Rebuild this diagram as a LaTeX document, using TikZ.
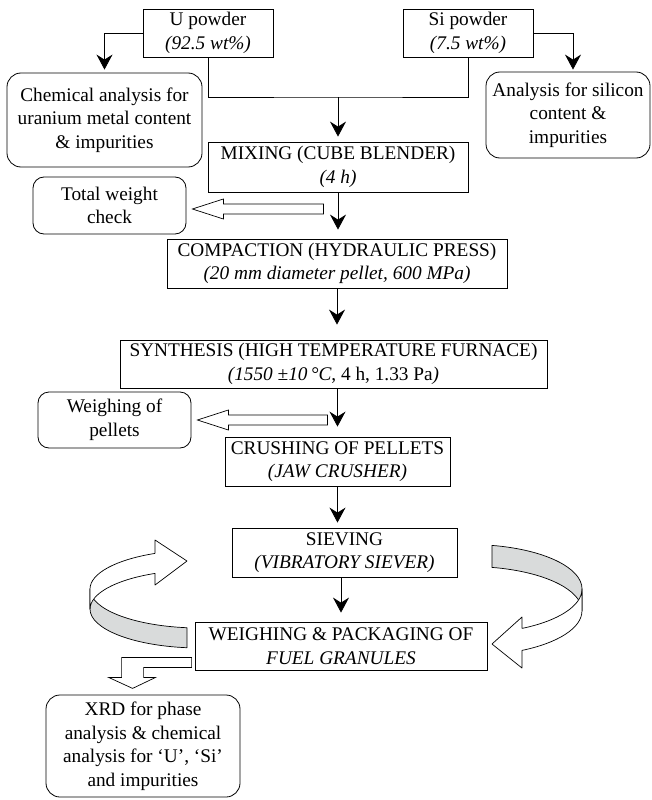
\documentclass[tikz,border=0pt]{standalone}
\usepackage{fontspec}
\setmainfont{Liberation Serif}
\usetikzlibrary{arrows.meta,calc}
\definecolor{ribbongray}{RGB}{217,219,219}

\begin{document}
\begin{tikzpicture}[x=1pt, y=-1pt,
  box/.style={draw, line width=0.8pt, align=center, inner sep=0pt, font=\fontsize{19.3}{23.5}\selectfont},
  roundbox/.style={box, rounded corners=14pt},
  flow/.style={line width=0.8pt, -{Stealth[length=15pt, width=16pt, inset=5pt]}},
  hollow/.style={draw, fill=white, line width=0.7pt},
  ribbon/.style={draw, line width=0.7pt, line join=round}]

\useasboundingbox (0, 0) rectangle (651, 800);

\node[box, minimum width=130, minimum height=48] (u_powder) at (208, 33) {U powder\\\textit{(92.5 wt\%)}};
\node[box, minimum width=130, minimum height=48] (si_powder) at (468, 33) {Si powder\\\textit{(7.5 wt\%)}};
\node[roundbox, minimum width=195, minimum height=94] (chem_analysis) at (104.5, 120) {Chemical analysis for\\uranium metal content\\\& impurities};
\node[roundbox, minimum width=164, minimum height=86] (si_analysis) at (568, 115) {Analysis for silicon\\content \&\\impurities};
\node[box, minimum width=260, minimum height=50] (mixing) at (338, 167) {MIXING (CUBE BLENDER)\\\textit{(4 h)}};
\node[roundbox, rounded corners=11pt, minimum width=153, minimum height=57] (weight_check) at (109.5, 205.5) {Total weight\\check};
\node[box, minimum width=340, minimum height=49] (compaction) at (337, 263.5) {COMPACTION (HYDRAULIC PRESS)\\\textit{(20 mm diameter pellet, 600 MPa)}};
\node[box, minimum width=427, minimum height=48] (synthesis) at (333.5, 364) {SYNTHESIS (HIGH TEMPERATURE FURNACE)\\\textit{(1550 ±10\,°C}, 4 h, 1.33 Pa\textit{)}};
\node[roundbox, rounded corners=11pt, minimum width=153, minimum height=56] (pellet_weighing) at (114.5, 420) {Weighing of\\pellets};
\node[box, minimum width=225, minimum height=49] (crushing) at (337.5, 461.5) {CRUSHING OF PELLETS\\\textit{(JAW CRUSHER)}};
\node[box, minimum width=225, minimum height=49] (sieving) at (344.5, 552.5) {SIEVING\\\textit{(VIBRATORY SIEVER)}};
\node[box, minimum width=292, minimum height=48] (packaging) at (341, 646) {WEIGHING \& PACKAGING OF\\\textit{FUEL GRANULES}};
\node[roundbox, minimum width=194, minimum height=102] (xrd_analysis) at (143, 746) {XRD for phase\\analysis \& chemical\\analysis for ‘U’, ‘Si’\\and impurities};

% powders
\coordinate (join) at (338, 97);
\draw[line width=0.8pt] (u_powder.south) |- (join) -| (si_powder.south);
\draw[flow, shorten >=5pt] (join) -- (mixing.north);
\draw[flow, shorten >=3pt] (u_powder.west) -| (chem_analysis.north);
\draw[flow, shorten >=2pt] (si_powder.east) -| ($(si_analysis.north)+(5, 0)$);

% main line
\draw[flow, shorten >=9pt] (mixing.south) -- (mixing.south |- compaction.north);
\draw[flow, shorten >=15pt] (compaction.south) -- (compaction.south |- synthesis.north);
\draw[flow, shorten >=10pt] (crushing.north |- synthesis.south) -- (crushing.north);
\draw[flow, shorten >=5pt] (crushing.south) -- (crushing.south |- sieving.north);
\draw[flow, shorten >=9pt] (packaging.north |- sieving.south) -- (packaging.north);

% side checks
\draw[hollow] ($(weight_check.east)+(6, 3.5)$) -- ++(31, -10) -- ++(0, 5) -- ++(100, 0) -- ++(0, 10) -- ++(-100, 0) -- ++(0, 5) -- cycle;
\draw[hollow] ($(pellet_weighing.east)+(6, 0)$) -- ++(31, -10) -- ++(0, 5) -- ++(99, 0) -- ++(0, 10) -- ++(-99, 0) -- ++(0, 5) -- cycle;
\draw[hollow] ($(packaging.south west)+(-3, -13)$) -- ++(-70, 0) -- ++(0, 20) -- ++(-13, 0) -- ++(24, 11) -- ++(23, -11) -- ++(-12, 0) -- ++(0, -10) -- ++(48, 0) -- cycle;

% recycle loops
\filldraw[ribbon, fill=ribbongray] (90, 589) arc[start angle=180, end angle=96.8, x radius=110, y radius=39] -- ++(0, 20) arc[start angle=96.8, end angle=180, x radius=110, y radius=39] -- cycle;
\filldraw[ribbon, fill=white] (90, 589) arc[start angle=180, end angle=245.8, x radius=110, y radius=39] -- (155, 540) -- (187, 561) -- (155, 585) -- (155, 573.4) arc[start angle=245.8, end angle=180, x radius=110, y radius=39] -- cycle;
\filldraw[ribbon, fill=ribbongray] (492, 545.4) arc[start angle=281.3, end angle=360, x radius=112, y radius=44.5] -- ++(0, 22) arc[start angle=360, end angle=281.3, x radius=112, y radius=44.5] -- cycle;
\filldraw[ribbon, fill=white] (582, 589) arc[start angle=0, end angle=62.3, x radius=112, y radius=44.5] -- (522, 617) -- (492, 644) -- (522, 668) -- (522, 650.4) arc[start angle=62.3, end angle=0, x radius=112, y radius=44.5] -- cycle;

\end{tikzpicture}
\end{document}
